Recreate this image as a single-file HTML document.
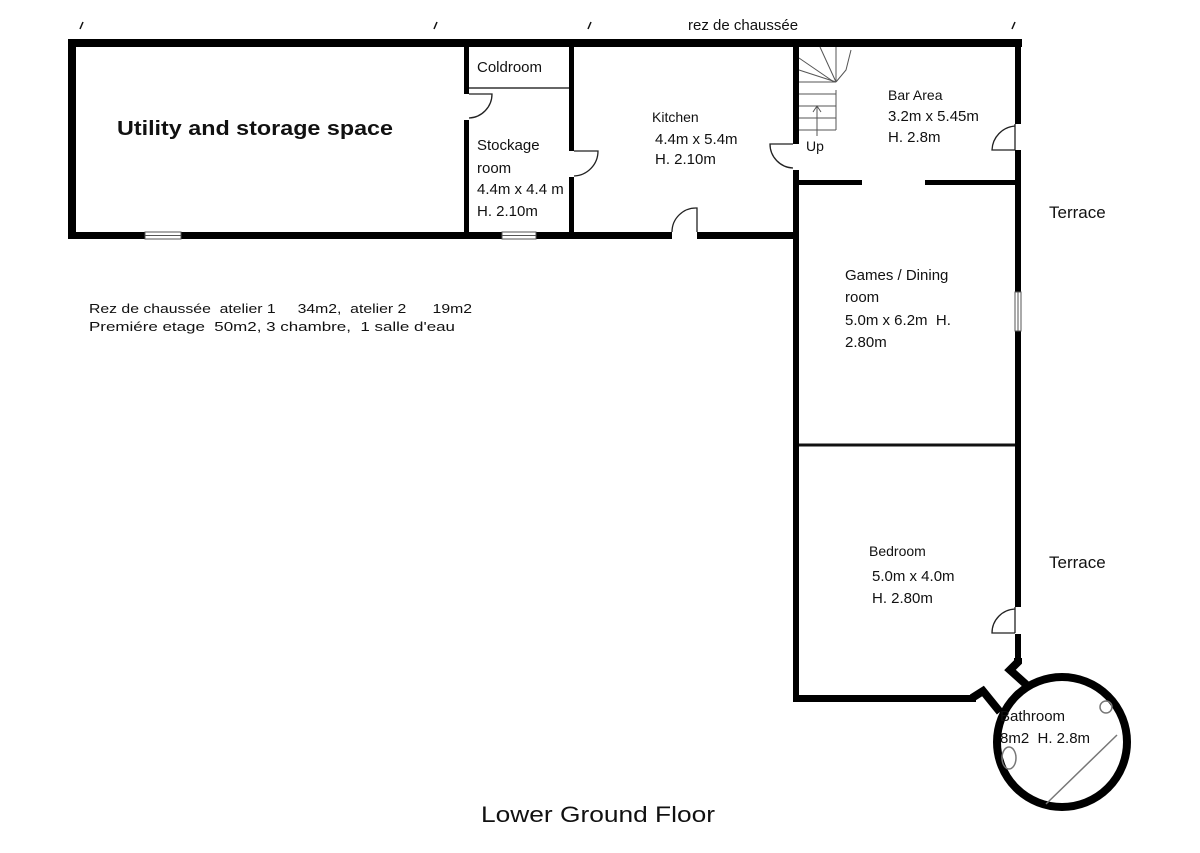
<!DOCTYPE html>
<html><head><meta charset="utf-8"><style>
html,body{margin:0;padding:0;background:#fff}
svg{display:block}
text{font-family:"Liberation Sans",sans-serif;fill:#111;white-space:pre}
</style></head><body>
<svg width="1200" height="853" viewBox="0 0 1200 853" xmlns="http://www.w3.org/2000/svg">
<rect width="1200" height="853" fill="#fff"/>
<g stroke="#111" stroke-width="1.5">
<line x1="80" y1="29" x2="83" y2="22"/><line x1="434" y1="29" x2="437" y2="22"/>
<line x1="588" y1="29" x2="591" y2="22"/><line x1="1012" y1="29" x2="1015" y2="22"/>
</g>
<g fill="#000">
<rect x="68" y="39" width="954" height="8"/>
<rect x="68" y="39" width="8" height="200"/>
<rect x="68" y="232" width="77" height="7"/>
<rect x="181" y="232" width="321" height="7"/>
<rect x="536" y="232" width="136" height="7"/>
<rect x="697" y="232" width="102" height="7"/>
<rect x="464" y="39" width="5" height="55"/>
<rect x="464" y="120" width="5" height="119"/>
<rect x="569" y="39" width="5" height="112"/>
<rect x="569" y="177" width="5" height="62"/>
<rect x="793" y="39" width="6" height="105"/>
<rect x="793" y="170" width="6" height="532"/>
<rect x="1015" y="39" width="6" height="85"/>
<rect x="1015" y="150" width="6" height="142"/>
<rect x="1015" y="331" width="6" height="276"/>
<rect x="1015" y="634" width="6" height="28"/>
<rect x="797" y="180" width="65" height="5"/>
<rect x="925" y="180" width="94" height="5"/>
<rect x="793" y="695" width="183" height="7"/>
</g>
<line x1="469" y1="88" x2="569" y2="88" stroke="#333" stroke-width="1.5"/>
<line x1="799" y1="445" x2="1015" y2="445" stroke="#111" stroke-width="3"/>
<g stroke="#555" stroke-width="1" fill="none">
<rect x="145" y="232" width="36" height="7"/><line x1="145" y1="235.5" x2="181" y2="235.5"/>
<rect x="502" y="232" width="34" height="7"/><line x1="502" y1="235.5" x2="536" y2="235.5"/>
<rect x="1015" y="292" width="6" height="39"/><line x1="1018" y1="292" x2="1018" y2="331"/>
</g>
<g stroke="#222" stroke-width="1.3" fill="none">
<path d="M469 94 L492 94 A24 24 0 0 1 469 118"/>
<path d="M574 151 L598 151 A25 25 0 0 1 574 176"/>
<path d="M793 144 L770 144 A24 24 0 0 0 793 168"/>
<path d="M697 232 L697 208 A24 24 0 0 0 672 232"/>
<path d="M1015 124 L1015 150 M1015 150 L992 150 A25 25 0 0 1 1015 126"/>
<path d="M1015 607 L1015 633 M1015 633 L992 633 A24 24 0 0 1 1015 609"/>
</g>
<g stroke="#555" stroke-width="1" fill="none">
<line x1="799" y1="130" x2="836" y2="130"/>
<line x1="836" y1="90" x2="836" y2="130"/>
<line x1="799" y1="118" x2="836" y2="118"/>
<line x1="799" y1="106" x2="836" y2="106"/>
<line x1="799" y1="94" x2="836" y2="94"/>
<line x1="799" y1="82" x2="836" y2="82"/>
<line x1="799" y1="70" x2="836" y2="82"/>
<line x1="799" y1="58" x2="834" y2="82"/>
<line x1="820" y1="47" x2="836" y2="82"/>
<line x1="836" y1="47" x2="836" y2="82"/>
<path d="M836 82 L846 70 L851 50"/>
<line x1="817" y1="136" x2="817" y2="107"/>
<path d="M813 112 L817 106 L821 112"/>
</g>
<g stroke="#000" stroke-width="8" fill="none" stroke-linejoin="miter">
<path d="M1018 658 L1018 662 L1010 670 L1030 688"/>
<path d="M972 698 L983 691 L1000 712"/>
<circle cx="1062" cy="742" r="65"/>
</g>
<g stroke="#777" stroke-width="1.5" fill="none">
<line x1="1046" y1="804" x2="1117" y2="735"/>
<ellipse cx="1009" cy="758" rx="7" ry="11"/>
<circle cx="1106" cy="707" r="6"/>
</g>
<text x="688" y="30" font-size="15">rez de chaussée</text>
<text x="117" y="135" font-size="20" font-weight="bold" textLength="276" lengthAdjust="spacingAndGlyphs">Utility and storage space</text>
<text x="477" y="72" font-size="15">Coldroom</text>
<text x="477" y="150" font-size="15">Stockage</text>
<text x="477" y="173" font-size="15">room</text>
<text x="477" y="194" font-size="15">4.4m x 4.4 m</text>
<text x="477" y="216" font-size="15">H. 2.10m</text>
<text x="652" y="122" font-size="14">Kitchen</text>
<text x="655" y="144" font-size="15">4.4m x 5.4m</text>
<text x="655" y="164" font-size="15">H. 2.10m</text>
<text x="806" y="151" font-size="14">Up</text>
<text x="888" y="100" font-size="14">Bar Area</text>
<text x="888" y="121" font-size="15">3.2m x 5.45m</text>
<text x="888" y="142" font-size="15">H. 2.8m</text>
<text x="1049" y="218" font-size="17">Terrace</text>
<text x="1049" y="568" font-size="17">Terrace</text>
<text x="845" y="280" font-size="15">Games / Dining</text>
<text x="845" y="302" font-size="15">room</text>
<text x="845" y="325" font-size="15">5.0m x 6.2m  H.</text>
<text x="845" y="347" font-size="15">2.80m</text>
<text x="869" y="556" font-size="14">Bedroom</text>
<text x="872" y="581" font-size="15">5.0m x 4.0m</text>
<text x="872" y="603" font-size="15">H. 2.80m</text>
<text x="1000" y="721" font-size="15">Bathroom</text>
<text x="1000" y="743" font-size="15">8m2  H. 2.8m</text>
<text x="89" y="313" font-size="13" textLength="383" lengthAdjust="spacingAndGlyphs">Rez de chaussée  atelier 1     34m2,  atelier 2      19m2</text>
<text x="89" y="331" font-size="13" textLength="366" lengthAdjust="spacingAndGlyphs">Premiére etage  50m2, 3 chambre,  1 salle d'eau</text>
<text x="481" y="822" font-size="22" textLength="234" lengthAdjust="spacingAndGlyphs">Lower Ground Floor</text>
</svg>
</body></html>
